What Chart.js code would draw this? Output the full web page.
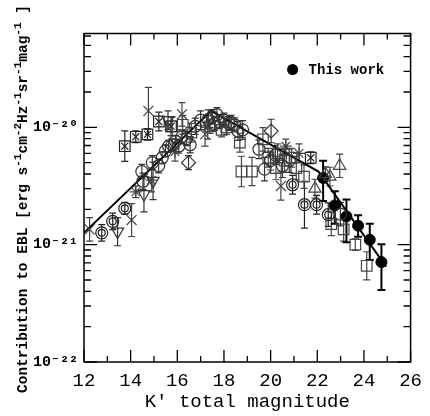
<!DOCTYPE html>
<html>
<head>
<meta charset="utf-8">
<script src="https://cdn.jsdelivr.net/npm/chart.js@4.4.0/dist/chart.umd.min.js"></script>
<style>
  html, body { margin: 0; padding: 0; background: #fff; }
  #wrap { width: 430px; height: 416px; }
</style>
</head>
<body>
<div id="wrap"><canvas id="ebl_chart" width="430" height="416"></canvas></div>
<script>
// K' galaxy counts -> contribution to the EBL
// literature values are in units of 1e-21, errors in dex

// this work (filled circles), full values
const thisWorkMag = [22.25, 22.75, 23.25, 23.75, 24.25, 24.75];
const thisWorkVal = [3.7e-21, 2.16e-21, 1.74e-21, 1.45e-21, 1.10e-21, 7.1e-22];
const thisWorkLo  = [2.35e-21, 1.51e-21, 1.05e-21, 1.17e-21, 7.4e-22, 4.1e-22];
const thisWorkHi  = [5.2e-21, 2.85e-21, 2.42e-21, 1.78e-21, 1.51e-21, 1.01e-21];

// broken power-law model
const fitMag = [12, 17.45, 22.05, 24.95];
const fitVal = [1.26e-21, 1.38e-20, 4.2e-21, 6.5e-22];

// open circles
const circMag = [14.48, 14.53, 14.93, 15.2, 15.35, 15.49, 15.63, 15.78, 15.92, 16.06, 16.2, 16.4, 16.55, 16.77, 17.0, 17.33, 17.5, 17.6, 17.7, 17.8, 18.0, 18.2, 18.3, 18.46, 18.6, 18.8, 19.5, 19.74, 20.0, 20.2, 20.51, 20.8, 22.99];
const circVal = [4.2, 3.47, 5.0, 4.7, 5.5, 6.3, 6.9, 7.1, 7.6, 6.9, 8.3, 8.0, 7.1, 10.2, 11.5, 11.7, 12.3, 10.8, 12.8, 11.2, 11.5, 10.8, 11.0, 10.5, 9.3, 9.5, 6.5, 4.4, 5.2, 5.8, 4.7, 5.2, 1.82];
const circErr = [0.06, 0.07, 0.06, 0.06, 0.05, 0.05, 0.05, 0.05, 0.05, 0.06, 0.06, 0.06, 0.07, 0.07, 0.08, 0.08, 0.06, 0.06, 0.06, 0.06, 0.06, 0.06, 0.06, 0.06, 0.08, 0.08, 0.08, 0.1, 0.08, 0.08, 0.1, 0.1, 0.1];

// double circles
const dblMag = [12.76, 13.23, 13.75, 20.94, 21.45, 21.97, 22.47];
const dblVal = [1.26, 1.58, 2.04, 3.24, 2.19, 2.19, 1.80];
const dblErr = [0.07, 0.07, 0.05, 0.08, 0.2, 0.08, 0.1];

// squares with a cross
const sqxMag = [13.75, 14.22, 14.72, 15.21, 15.73, 21.72];
const sqxVal = [6.9, 8.3, 8.7, 11.2, 10.2, 5.5];
const sqxErr = [0.13, 0.05, 0.05, 0.08, 0.08, 0.05];

// open squares
const sqMag = [15.78, 16.23, 16.6, 17.4, 17.9, 18.1, 18.68, 18.75, 19.2, 19.67, 19.9, 20.23, 20.3, 20.6, 20.9, 21.1, 21.43, 22.6, 23.13, 23.63, 24.12];
const sqVal = [10.2, 10.5, 9.0, 10.2, 9.5, 10.0, 7.4, 4.2, 4.2, 7.9, 5.5, 4.5, 6.0, 5.2, 5.5, 4.5, 3.8, 1.5, 1.35, 1.0, 0.66];
const sqErr = [0.08, 0.08, 0.08, 0.06, 0.06, 0.06, 0.08, 0.13, 0.12, 0.1, 0.08, 0.1, 0.08, 0.1, 0.08, 0.1, 0.1, 0.1, 0.1, 0.05, 0.12];

// crosses
const crossMag = [12.24, 14.04, 14.76, 16.2, 17.19, 20.44];
const crossVal = [1.35, 1.62, 13.8, 12.9, 8.7, 3.16];
const crossErr = [0.1, 0.14, 0.2, 0.1, 0.1, 0.12];

// inverted triangles
const invTriMag = [13.44, 14.57, 14.96, 15.6];
const invTriVal = [1.29, 2.69, 3.5, 11.5];
const invTriErr = [0.12, 0.15, 0.16, 0.08];

// triangles
const triMag = [21.9, 22.35, 22.54, 22.96];
const triVal = [3.0, 4.0, 3.8, 4.7];
const triErr = [0.08, 0.06, 0.08, 0.1];

// diamonds
const diaMag = [16.48, 20.02];
const diaVal = [5.0, 9.3];
const diaErr = [0.06, 0.1];

// stars
const starMag = [14.22, 14.9, 15.9, 17.3, 20.65, 21.22];
const starVal = [2.82, 3.55, 6.2, 10.0, 6.9, 6.0];
const starErr = [0.05, 0.1, 0.08, 0.1, 0.06, 0.08];

const E21 = 1e-21;
const fontMono = "'Liberation Mono', 'DejaVu Sans Mono', monospace";

function pts(mags, vals, unit) {
    return mags.map((m, i) => ({x: m, y: vals[i] * unit}));
}
function bound(vals, errs, sign) {
    return vals.map((v, i) => v * E21 * Math.pow(10, sign * errs[i]));
}
function litSet(label, mags, vals, errs, style, color, radius, extra) {
    let ds = {
        type: 'scatter',
        label: label,
        data: pts(mags, vals, E21),
        pointStyle: style,
        pointRadius: radius,
        borderColor: color,
        backgroundColor: 'rgba(0,0,0,0)',
        pointBorderWidth: 1.2,
        showLine: false
    };
    if (errs) {
        ds.errLo = bound(vals, errs, -1);
        ds.errHi = bound(vals, errs, 1);
    }
    return Object.assign(ds, extra || {});
}

const supMap = {'-': '\u207B', '0': '\u2070', '1': '\u00B9', '2': '\u00B2', '3': '\u00B3', '4': '\u2074',
    '5': '\u2075', '6': '\u2076', '7': '\u2077', '8': '\u2078', '9': '\u2079'};
function toSup(s) { return s.split('').map(c => supMap[c] || c).join(''); }

// error bars, drawn under the symbols
const errorBars = {
    id: 'errorBars',
    beforeDatasetsDraw(chart) {
        const {ctx, chartArea, scales: {x, y}} = chart;
        ctx.save();
        ctx.beginPath();
        ctx.rect(chartArea.left, chartArea.top, chartArea.right - chartArea.left, chartArea.bottom - chartArea.top);
        ctx.clip();
        chart.data.datasets.forEach(ds => {
            if (!ds.errLo) return;
            ctx.strokeStyle = ds.borderColor;
            ctx.lineWidth = ds.errWidth || 1.2;
            const cap = ds.capSize || 3.5;
            ds.data.forEach((p, j) => {
                const px = x.getPixelForValue(p.x);
                const top = y.getPixelForValue(ds.errHi[j]);
                const bot = y.getPixelForValue(ds.errLo[j]);
                ctx.beginPath();
                ctx.moveTo(px, top); ctx.lineTo(px, bot);
                ctx.moveTo(px - cap, top); ctx.lineTo(px + cap, top);
                ctx.moveTo(px - cap, bot); ctx.lineTo(px + cap, bot);
                ctx.stroke();
            });
        });
        ctx.restore();
    }
};

// box, inward ticks, legend and y title
const frame = {
    id: 'frame',
    afterDraw(chart) {
        const {ctx, chartArea: a, scales: {x, y}} = chart;
        ctx.save();
        ctx.strokeStyle = '#000';
        ctx.lineWidth = 1.5;
        ctx.strokeRect(a.left, a.top, a.right - a.left, a.bottom - a.top);
        ctx.lineWidth = 1.3;
        ctx.beginPath();
        for (let m = Math.ceil(x.min); m <= x.max; m++) {
            const px = x.getPixelForValue(m);
            const len = (m % 2 === 0) ? 12 : 6;
            ctx.moveTo(px, a.bottom); ctx.lineTo(px, a.bottom - len);
            ctx.moveTo(px, a.top); ctx.lineTo(px, a.top + len);
        }
        const e0 = Math.floor(Math.log10(y.min)), e1 = Math.ceil(Math.log10(y.max));
        for (let e = e0; e <= e1; e++) {
            for (let s = 1; s <= 9; s++) {
                const v = s * Math.pow(10, e);
                if (v < y.min * 0.999 || v > y.max * 1.001) continue;
                const py = y.getPixelForValue(v);
                const len = (s === 1) ? 13 : 7;
                ctx.moveTo(a.left, py); ctx.lineTo(a.left + len, py);
                ctx.moveTo(a.right, py); ctx.lineTo(a.right - len, py);
            }
        }
        ctx.stroke();

        // legend
        const lx = a.right - 118, ly = a.top + 36;
        ctx.fillStyle = '#000';
        ctx.beginPath();
        ctx.arc(lx, ly, 5.5, 0, Math.PI * 2);
        ctx.fill();
        ctx.font = 'bold 14px ' + fontMono;
        ctx.textBaseline = 'middle';
        ctx.textAlign = 'left';
        ctx.fillText('This work', lx + 16, ly + 1);

        // y axis title with superscripts
        const runs = [['Contribution to EBL [erg s', 0], ['-1', 1], ['cm', 0], ['-2', 1], ['Hz', 0], ['-1', 1],
            ['sr', 0], ['-1', 1], ['mag', 0], ['-1', 1], [' ]', 0]];
        const mainFont = 'bold 14.5px ' + fontMono, supFont = 'bold 11px ' + fontMono;
        let total = 0;
        runs.forEach(r => { ctx.font = r[1] ? supFont : mainFont; total += ctx.measureText(r[0]).width; });
        ctx.translate(23, 199);
        ctx.rotate(-Math.PI / 2);
        let cx = -total / 2;
        runs.forEach(r => {
            ctx.font = r[1] ? supFont : mainFont;
            ctx.fillText(r[0], cx, r[1] ? -5 : 0);
            cx += ctx.measureText(r[0]).width;
        });
        ctx.restore();
    }
};

let datasets = [
    litSet('Circles', circMag, circVal, circErr, 'circle', '#333', 6),
    litSet('Double circles', dblMag, dblVal, dblErr, 'circle', '#222', 6),
    litSet('Double circles inner', dblMag, dblVal, null, 'circle', '#222', 3.5),
    litSet('Squares x', sqxMag, sqxVal, sqxErr, 'rect', '#222', 7.5),
    litSet('Squares x cross', sqxMag, sqxVal, null, 'crossRot', '#222', 5),
    litSet('Squares', sqMag, sqVal, sqErr, 'rect', '#444', 7.5),
    litSet('Crosses', crossMag, crossVal, crossErr, 'crossRot', '#444', 7),
    litSet('Inverted triangles', invTriMag, invTriVal, invTriErr, 'triangle', '#333', 7, {pointRotation: 180}),
    litSet('Triangles', triMag, triVal, triErr, 'triangle', '#444', 7),
    litSet('Diamonds', diaMag, diaVal, diaErr, 'rectRot', '#333', 7),
    litSet('Stars', starMag, starVal, starErr, 'star', '#444', 6),
    {
        type: 'line',
        label: 'Model',
        data: pts(fitMag, fitVal, 1),
        borderColor: '#000',
        borderWidth: 2,
        pointRadius: 0,
        fill: false,
        tension: 0
    },
    {
        type: 'scatter',
        label: 'This work',
        data: pts(thisWorkMag, thisWorkVal, 1),
        errLo: thisWorkLo,
        errHi: thisWorkHi,
        errWidth: 2,
        capSize: 4,
        pointStyle: 'circle',
        pointRadius: 5.5,
        borderColor: '#000',
        backgroundColor: '#000',
        pointBorderWidth: 1
    }
];

let config = {
    type: 'scatter',
    data: { datasets: datasets },
    options: {
        responsive: false,
        animation: false,
        events: [],
        layout: { padding: { top: 33.5, right: 16, bottom: 0, left: 0 } },
        plugins: { legend: { display: false }, tooltip: { enabled: false } },
        scales: {
            x: {
                type: 'linear', min: 12, max: 26,
                grid: { display: false, drawTicks: false },
                border: { display: false },
                ticks: { stepSize: 2, padding: 8, maxRotation: 0, color: '#000',
                    font: { family: fontMono, size: 19 } },
                title: { display: true, text: "K' total magnitude", color: '#000',
                    font: { family: fontMono, size: 19, lineHeight: 1 }, padding: { top: 0, bottom: 4.5 } },
                afterFit(scale) { scale.height = 54; }
            },
            y: {
                type: 'logarithmic', min: 1e-22, max: 6.3e-20,
                grid: { display: false, drawTicks: false },
                border: { display: false },
                ticks: {
                    autoSkip: false, padding: 6, color: '#000',
                    font: { family: fontMono, size: 15, weight: 'bold' },
                    callback(v) {
                        const e = Math.log10(v);
                        if (Math.abs(e - Math.round(e)) > 1e-6) return '';
                        return '10' + toSup(String(Math.round(e)));
                    }
                },
                afterFit(scale) { scale.width = 84; }
            }
        }
    },
    plugins: [errorBars, frame]
};

new Chart(document.getElementById('ebl_chart').getContext('2d'), config);
</script>
</body>
</html>
